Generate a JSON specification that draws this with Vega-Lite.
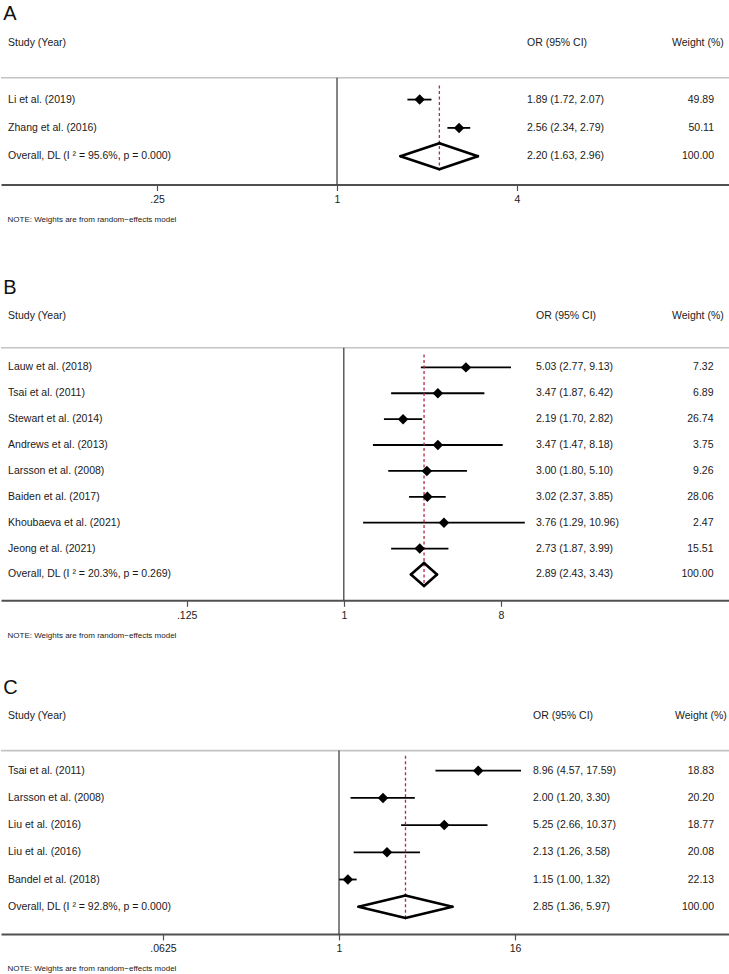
{
  "$schema": "https://vega.github.io/schema/vega-lite/v6.json",
  "padding": {"top": 4, "left": 0, "right": 0, "bottom": 0},
  "background": "white",
  "config": {
    "view": {"stroke": null},
    "font": "Liberation Sans",
    "title": {"anchor": "start", "fontSize": 20, "fontWeight": "normal", "font": "Liberation Sans", "offset": 2, "color": "#111111", "dx": 3},
    "text": {"font": "Liberation Sans", "fontSize": 10.5, "color": "#1a1a1a", "baseline": "middle"},
    "axisX": {"domainColor": "#505050", "domainWidth": 2, "tickColor": "#505050", "tickWidth": 1.2, "tickSize": 6, "labelFont": "Liberation Sans", "labelFontSize": 10.5, "labelColor": "#1a1a1a", "labelPadding": 4, "grid": false, "titleFont": "Liberation Sans", "titleFontSize": 8, "titleFontWeight": "normal", "titleColor": "#1a1a1a", "titleAnchor": "start", "titleAlign": "left", "titlePadding": 10.5, "titleX": 6, "labelFlush": false,
      "labelExpr": "datum.value < 1 ? replace(toString(datum.value), '0.', '.') : toString(datum.value)"}
  },
  "datasets": {
    "a": [
      {"type": "header", "study": "Study (Year)", "ort": "OR (95% CI)", "wt": "Weight (%)", "row": -1},
      {"type": "study", "study": "Li et al. (2019)", "or": 1.89, "lo": 1.72, "hi": 2.07, "ort": "1.89 (1.72, 2.07)", "wt": "49.89", "row": 1},
      {"type": "study", "study": "Zhang et al. (2016)", "or": 2.56, "lo": 2.34, "hi": 2.79, "ort": "2.56 (2.34, 2.79)", "wt": "50.11", "row": 2},
      {"type": "overall", "study": "Overall, DL (I ² = 95.6%, p = 0.000)", "or": 2.20, "lo": 1.63, "hi": 2.96, "ort": "2.20 (1.63, 2.96)", "wt": "100.00", "row": 3}
    ],
    "b": [
      {"type": "header", "study": "Study (Year)", "ort": "OR (95% CI)", "wt": "Weight (%)", "row": -1},
      {"type": "study", "study": "Lauw et al. (2018)", "or": 5.03, "lo": 2.77, "hi": 9.13, "ort": "5.03 (2.77, 9.13)", "wt": "7.32", "row": 1},
      {"type": "study", "study": "Tsai et al. (2011)", "or": 3.47, "lo": 1.87, "hi": 6.42, "ort": "3.47 (1.87, 6.42)", "wt": "6.89", "row": 2},
      {"type": "study", "study": "Stewart et al. (2014)", "or": 2.19, "lo": 1.70, "hi": 2.82, "ort": "2.19 (1.70, 2.82)", "wt": "26.74", "row": 3},
      {"type": "study", "study": "Andrews et al. (2013)", "or": 3.47, "lo": 1.47, "hi": 8.18, "ort": "3.47 (1.47, 8.18)", "wt": "3.75", "row": 4},
      {"type": "study", "study": "Larsson et al. (2008)", "or": 3.00, "lo": 1.80, "hi": 5.10, "ort": "3.00 (1.80, 5.10)", "wt": "9.26", "row": 5},
      {"type": "study", "study": "Baiden et al. (2017)", "or": 3.02, "lo": 2.37, "hi": 3.85, "ort": "3.02 (2.37, 3.85)", "wt": "28.06", "row": 6},
      {"type": "study", "study": "Khoubaeva et al. (2021)", "or": 3.76, "lo": 1.29, "hi": 10.96, "ort": "3.76 (1.29, 10.96)", "wt": "2.47", "row": 7},
      {"type": "study", "study": "Jeong et al. (2021)", "or": 2.73, "lo": 1.87, "hi": 3.99, "ort": "2.73 (1.87, 3.99)", "wt": "15.51", "row": 8},
      {"type": "overall", "study": "Overall, DL (I ² = 20.3%, p = 0.269)", "or": 2.89, "lo": 2.43, "hi": 3.43, "ort": "2.89 (2.43, 3.43)", "wt": "100.00", "row": 9}
    ],
    "c": [
      {"type": "header", "study": "Study (Year)", "ort": "OR (95% CI)", "wt": "Weight (%)", "row": -1},
      {"type": "study", "study": "Tsai et al. (2011)", "or": 8.96, "lo": 4.57, "hi": 17.59, "ort": "8.96 (4.57, 17.59)", "wt": "18.83", "row": 1},
      {"type": "study", "study": "Larsson et al. (2008)", "or": 2.00, "lo": 1.20, "hi": 3.30, "ort": "2.00 (1.20, 3.30)", "wt": "20.20", "row": 2},
      {"type": "study", "study": "Liu et al. (2016)", "or": 5.25, "lo": 2.66, "hi": 10.37, "ort": "5.25 (2.66, 10.37)", "wt": "18.77", "row": 3},
      {"type": "study", "study": "Liu et al. (2016)", "or": 2.13, "lo": 1.26, "hi": 3.58, "ort": "2.13 (1.26, 3.58)", "wt": "20.08", "row": 4},
      {"type": "study", "study": "Bandel et al. (2018)", "or": 1.15, "lo": 1.00, "hi": 1.32, "ort": "1.15 (1.00, 1.32)", "wt": "22.13", "row": 5},
      {"type": "overall", "study": "Overall, DL (I ² = 92.8%, p = 0.000)", "or": 2.85, "lo": 1.36, "hi": 5.97, "ort": "2.85 (1.36, 5.97)", "wt": "100.00", "row": 6}
    ]
  },
  "spacing": 53.5,
  "vconcat": [
    {
      "title": {"text": "A", "offset": 2},
      "width": 729,
      "height": 158.5,
      "data": {"name": "a"},
      "layer": [
        {
          "mark": {"type": "rule", "color": "black", "strokeWidth": 1.8},
          "transform": [{"filter": "datum.type == 'study'"}],
          "encoding": {
            "x": {"field": "lo", "type": "quantitative", "scale": {"type": "log", "base": 2, "domain": [0.07518, 20.63], "nice": false, "zero": false},
              "axis": {"values": [0.25, 1, 4], "title": "NOTE: Weights are from random\u2212effects model"}},
            "x2": {"field": "hi"},
            "y": {"field": "row", "type": "quantitative", "scale": {"domain": [-1.6, 4], "reverse": true, "nice": false, "zero": false}, "axis": null}
          }
        },
        {"data": {"values": [{}]}, "mark": {"type": "rule", "color": "#c4c4c4", "strokeWidth": 1.6}, "encoding": {"y": {"datum": 0.23, "type": "quantitative"}}},
        {"data": {"values": [{}]}, "mark": {"type": "rule", "color": "#333333", "strokeWidth": 1.2}, "encoding": {"x": {"datum": 1, "type": "quantitative"}, "y": {"datum": 0.23, "type": "quantitative"}, "y2": {"datum": 4}}},
        {"data": {"values": [{}]}, "mark": {"type": "rule", "color": "#b22a48", "strokeWidth": 1.3, "strokeDash": [3, 2.5]}, "encoding": {"x": {"datum": 2.20, "type": "quantitative"}, "y": {"datum": 0.5, "type": "quantitative"}, "y2": {"datum": 3.46}}},
        {
          "mark": {"type": "point", "shape": "diamond", "filled": true, "color": "black", "size": 110, "opacity": 1},
          "transform": [{"filter": "datum.type == 'study'"}],
          "encoding": {"x": {"field": "or", "type": "quantitative"}, "y": {"field": "row", "type": "quantitative"}}
        },
        {"mark": {"type": "rule", "color": "black", "strokeWidth": 2.6, "strokeCap": "round", "y2Offset": -13}, "transform": [{"filter": "datum.type == 'overall'"}],
          "encoding": {"x": {"field": "lo", "type": "quantitative"}, "x2": {"field": "or"}, "y": {"field": "row", "type": "quantitative"}, "y2": {"field": "row"}}},
        {"mark": {"type": "rule", "color": "black", "strokeWidth": 2.6, "strokeCap": "round", "yOffset": -13}, "transform": [{"filter": "datum.type == 'overall'"}],
          "encoding": {"x": {"field": "or", "type": "quantitative"}, "x2": {"field": "hi"}, "y": {"field": "row", "type": "quantitative"}, "y2": {"field": "row"}}},
        {"mark": {"type": "rule", "color": "black", "strokeWidth": 2.6, "strokeCap": "round", "y2Offset": 13}, "transform": [{"filter": "datum.type == 'overall'"}],
          "encoding": {"x": {"field": "lo", "type": "quantitative"}, "x2": {"field": "or"}, "y": {"field": "row", "type": "quantitative"}, "y2": {"field": "row"}}},
        {"mark": {"type": "rule", "color": "black", "strokeWidth": 2.6, "strokeCap": "round", "yOffset": 13}, "transform": [{"filter": "datum.type == 'overall'"}],
          "encoding": {"x": {"field": "or", "type": "quantitative"}, "x2": {"field": "hi"}, "y": {"field": "row", "type": "quantitative"}, "y2": {"field": "row"}}},
        {"mark": {"type": "text", "align": "left"}, "encoding": {"x": {"datum": 0.0794, "type": "quantitative"}, "y": {"field": "row", "type": "quantitative"}, "text": {"field": "study"}}},
        {"mark": {"type": "text", "align": "left"}, "encoding": {"x": {"datum": 4.32, "type": "quantitative"}, "y": {"field": "row", "type": "quantitative"}, "text": {"field": "ort"}}},
        {"mark": {"type": "text", "align": "right"}, "transform": [{"filter": "datum.type != 'header'"}], "encoding": {"x": {"datum": 18.24, "type": "quantitative"}, "y": {"field": "row", "type": "quantitative"}, "text": {"field": "wt"}}},
        {"mark": {"type": "text", "align": "left"}, "transform": [{"filter": "datum.type == 'header'"}], "encoding": {"x": {"datum": 13.2, "type": "quantitative"}, "y": {"field": "row", "type": "quantitative"}, "text": {"field": "wt"}}}
      ]
    },
    {
      "spacing": 38.5,
      "vconcat": [
        {
          "title": {"text": "B", "offset": 0},
          "width": 729,
          "height": 302.8,
          "data": {"name": "b"},
          "layer": [
            {
              "mark": {"type": "rule", "color": "black", "strokeWidth": 1.8},
              "transform": [{"filter": "datum.type == 'study'"}],
              "encoding": {
                "x": {"field": "lo", "type": "quantitative", "scale": {"type": "log", "base": 2, "domain": [0.01073, 165.4], "nice": false, "zero": false},
                  "axis": {"values": [0.125, 1, 8], "title": "NOTE: Weights are from random\u2212effects model"}},
                "x2": {"field": "hi"},
                "y": {"field": "row", "type": "quantitative", "scale": {"domain": [-1.7, 10], "reverse": true, "nice": false, "zero": false}, "axis": null}
              }
            },
            {"data": {"values": [{}]}, "mark": {"type": "rule", "color": "#c4c4c4", "strokeWidth": 1.6}, "encoding": {"y": {"datum": 0.24, "type": "quantitative"}}},
            {"data": {"values": [{}]}, "mark": {"type": "rule", "color": "#333333", "strokeWidth": 1.2}, "encoding": {"x": {"datum": 1, "type": "quantitative"}, "y": {"datum": 0.24, "type": "quantitative"}, "y2": {"datum": 10}}},
            {"data": {"values": [{}]}, "mark": {"type": "rule", "color": "#b22a48", "strokeWidth": 1.3, "strokeDash": [3, 2.5]}, "encoding": {"x": {"datum": 2.89, "type": "quantitative"}, "y": {"datum": 0.5, "type": "quantitative"}, "y2": {"datum": 9.44}}},
            {
              "mark": {"type": "point", "shape": "diamond", "filled": true, "color": "black", "size": 110, "opacity": 1},
              "transform": [{"filter": "datum.type == 'study'"}],
              "encoding": {"x": {"field": "or", "type": "quantitative"}, "y": {"field": "row", "type": "quantitative"}}
            },
            {"mark": {"type": "rule", "color": "black", "strokeWidth": 2.6, "strokeCap": "round", "y2Offset": -11.5}, "transform": [{"filter": "datum.type == 'overall'"}],
              "encoding": {"x": {"field": "lo", "type": "quantitative"}, "x2": {"field": "or"}, "y": {"field": "row", "type": "quantitative"}, "y2": {"field": "row"}}},
            {"mark": {"type": "rule", "color": "black", "strokeWidth": 2.6, "strokeCap": "round", "yOffset": -11.5}, "transform": [{"filter": "datum.type == 'overall'"}],
              "encoding": {"x": {"field": "or", "type": "quantitative"}, "x2": {"field": "hi"}, "y": {"field": "row", "type": "quantitative"}, "y2": {"field": "row"}}},
            {"mark": {"type": "rule", "color": "black", "strokeWidth": 2.6, "strokeCap": "round", "y2Offset": 11.5}, "transform": [{"filter": "datum.type == 'overall'"}],
              "encoding": {"x": {"field": "lo", "type": "quantitative"}, "x2": {"field": "or"}, "y": {"field": "row", "type": "quantitative"}, "y2": {"field": "row"}}},
            {"mark": {"type": "rule", "color": "black", "strokeWidth": 2.6, "strokeCap": "round", "yOffset": 11.5}, "transform": [{"filter": "datum.type == 'overall'"}],
              "encoding": {"x": {"field": "or", "type": "quantitative"}, "x2": {"field": "hi"}, "y": {"field": "row", "type": "quantitative"}, "y2": {"field": "row"}}},
            {"mark": {"type": "text", "align": "left"}, "encoding": {"x": {"datum": 0.01178, "type": "quantitative"}, "y": {"field": "row", "type": "quantitative"}, "text": {"field": "study"}}},
            {"mark": {"type": "text", "align": "left"}, "encoding": {"x": {"datum": 12.71, "type": "quantitative"}, "y": {"field": "row", "type": "quantitative"}, "text": {"field": "ort"}}},
            {"mark": {"type": "text", "align": "right"}, "transform": [{"filter": "datum.type != 'header'"}], "encoding": {"x": {"datum": 133.0, "type": "quantitative"}, "y": {"field": "row", "type": "quantitative"}, "text": {"field": "wt"}}},
            {"mark": {"type": "text", "align": "left"}, "transform": [{"filter": "datum.type == 'header'"}], "encoding": {"x": {"datum": 76.8, "type": "quantitative"}, "y": {"field": "row", "type": "quantitative"}, "text": {"field": "wt"}}}
          ]
        },
        {
          "title": {"text": "C", "offset": 2},
          "width": 729,
          "height": 233.9,
          "data": {"name": "c"},
          "layer": [
            {
              "mark": {"type": "rule", "color": "black", "strokeWidth": 1.8},
              "transform": [{"filter": "datum.type == 'study'"}],
              "encoding": {
                "x": {"field": "lo", "type": "quantitative", "scale": {"type": "log", "base": 2, "domain": [0.00487, 473.1], "nice": false, "zero": false},
                  "axis": {"values": [0.0625, 1, 16], "title": "NOTE: Weights are from random\u2212effects model"}},
                "x2": {"field": "hi"},
                "y": {"field": "row", "type": "quantitative", "scale": {"domain": [-1.6, 7], "reverse": true, "nice": false, "zero": false}, "axis": null}
              }
            },
            {"data": {"values": [{}]}, "mark": {"type": "rule", "color": "#c4c4c4", "strokeWidth": 1.6}, "encoding": {"y": {"datum": 0.26, "type": "quantitative"}}},
            {"data": {"values": [{}]}, "mark": {"type": "rule", "color": "#333333", "strokeWidth": 1.2}, "encoding": {"x": {"datum": 1, "type": "quantitative"}, "y": {"datum": 0.26, "type": "quantitative"}, "y2": {"datum": 7}}},
            {"data": {"values": [{}]}, "mark": {"type": "rule", "color": "#b22a48", "strokeWidth": 1.3, "strokeDash": [3, 2.5]}, "encoding": {"x": {"datum": 2.85, "type": "quantitative"}, "y": {"datum": 0.45, "type": "quantitative"}, "y2": {"datum": 6.42}}},
            {
              "mark": {"type": "point", "shape": "diamond", "filled": true, "color": "black", "size": 110, "opacity": 1},
              "transform": [{"filter": "datum.type == 'study'"}],
              "encoding": {"x": {"field": "or", "type": "quantitative"}, "y": {"field": "row", "type": "quantitative"}}
            },
            {"mark": {"type": "rule", "color": "black", "strokeWidth": 2.6, "strokeCap": "round", "y2Offset": -11.3}, "transform": [{"filter": "datum.type == 'overall'"}],
              "encoding": {"x": {"field": "lo", "type": "quantitative"}, "x2": {"field": "or"}, "y": {"field": "row", "type": "quantitative"}, "y2": {"field": "row"}}},
            {"mark": {"type": "rule", "color": "black", "strokeWidth": 2.6, "strokeCap": "round", "yOffset": -11.3}, "transform": [{"filter": "datum.type == 'overall'"}],
              "encoding": {"x": {"field": "or", "type": "quantitative"}, "x2": {"field": "hi"}, "y": {"field": "row", "type": "quantitative"}, "y2": {"field": "row"}}},
            {"mark": {"type": "rule", "color": "black", "strokeWidth": 2.6, "strokeCap": "round", "y2Offset": 11.3}, "transform": [{"filter": "datum.type == 'overall'"}],
              "encoding": {"x": {"field": "lo", "type": "quantitative"}, "x2": {"field": "or"}, "y": {"field": "row", "type": "quantitative"}, "y2": {"field": "row"}}},
            {"mark": {"type": "rule", "color": "black", "strokeWidth": 2.6, "strokeCap": "round", "yOffset": 11.3}, "transform": [{"filter": "datum.type == 'overall'"}],
              "encoding": {"x": {"field": "or", "type": "quantitative"}, "x2": {"field": "hi"}, "y": {"field": "row", "type": "quantitative"}, "y2": {"field": "row"}}},
            {"mark": {"type": "text", "align": "left"}, "encoding": {"x": {"datum": 0.00544, "type": "quantitative"}, "y": {"field": "row", "type": "quantitative"}, "text": {"field": "study"}}},
            {"mark": {"type": "text", "align": "left"}, "encoding": {"x": {"datum": 21.25, "type": "quantitative"}, "y": {"field": "row", "type": "quantitative"}, "text": {"field": "ort"}}},
            {"mark": {"type": "text", "align": "right"}, "transform": [{"filter": "datum.type != 'header'"}], "encoding": {"x": {"datum": 367.8, "type": "quantitative"}, "y": {"field": "row", "type": "quantitative"}, "text": {"field": "wt"}}},
            {"mark": {"type": "text", "align": "left"}, "transform": [{"filter": "datum.type == 'header'"}], "encoding": {"x": {"datum": 199.0, "type": "quantitative"}, "y": {"field": "row", "type": "quantitative"}, "text": {"field": "wt"}}}
          ]
        }
      ]
    }
  ]
}
